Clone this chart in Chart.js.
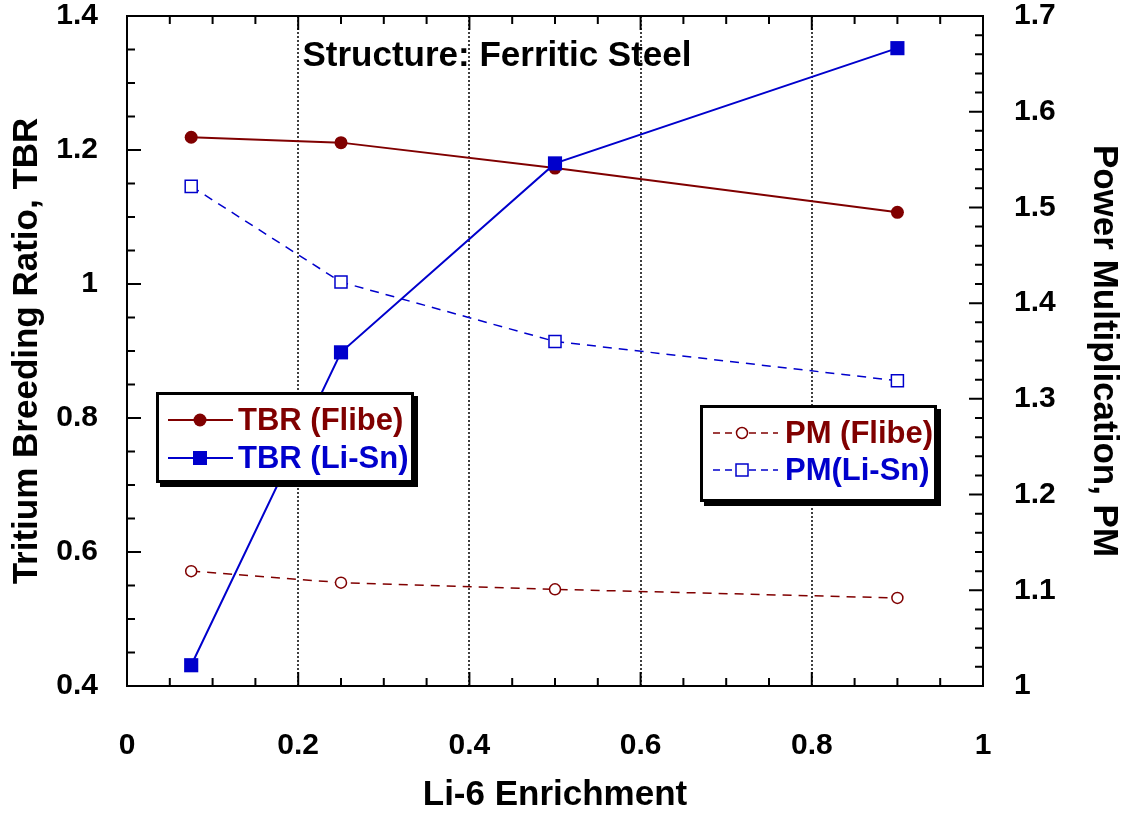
<!DOCTYPE html>
<html><head><meta charset="utf-8">
<script src="https://cdn.jsdelivr.net/npm/chart.js@4/dist/chart.umd.min.js"></script>
<style>html,body{margin:0;padding:0;background:#fff;}#wrap{width:1125px;height:817px;}</style>
</head><body><div id="wrap"><canvas id="c" width="1125" height="817"></canvas></div>
<script>
// ---- data ----
const enrichment = [0.075, 0.25, 0.5, 0.9];
const tbrFlibe = [1.219, 1.211, 1.173, 1.107];
const tbrLiSn = [0.431, 0.898, 1.180, 1.352];
const pmFlibe = [1.120, 1.108, 1.101, 1.092];
const pmLiSn = [1.522, 1.422, 1.360, 1.319];
const xTicks = [0, 0.2, 0.4, 0.6, 0.8, 1];
const yLeftTicks = [0.4, 0.6, 0.8, 1.0, 1.2, 1.4];
const yRightTicks = [1.0, 1.1, 1.2, 1.3, 1.4, 1.5, 1.6, 1.7];
const xGridAt = [0.2, 0.4, 0.6, 0.8];
const seriesNames = ['TBR (Flibe)', 'TBR (Li-Sn)', 'PM (Flibe)', 'PM(Li-Sn)'];
const plotTitle = 'Structure: Ferritic Steel';

const FONT = "'Liberation Sans', Arial, Helvetica, sans-serif";
const RED = '#800000', BLUE = '#0000CC';
const fmt = v => String(Math.round(v * 10) / 10);
const pts = ys => enrichment.map((x, i) => ({x, y: ys[i]}));
const tickFont = {family: FONT, size: 30, weight: 'bold', lineHeight: 1};
const titleFont = {family: FONT, size: 35, weight: 'bold', lineHeight: 1.2};

function range(a, b, s) { const r = []; for (let v = a; v <= b + 1e-9; v += s) r.push(+v.toFixed(4)); return r; }
const isMult = (v, m) => Math.abs(v / m - Math.round(v / m)) < 1e-6;
const noPad = s => { s.paddingTop = 0; s.paddingBottom = 0; s.paddingLeft = 0; s.paddingRight = 0; };

const decor = {
  id: 'decor',
  beforeDatasetsDraw(chart) {
    const {ctx, chartArea: a, scales: {x}} = chart;
    ctx.save();
    ctx.strokeStyle = '#000'; ctx.lineWidth = 1.5; ctx.setLineDash([2, 2]);
    xGridAt.forEach(v => {
      const px = Math.round(x.getPixelForValue(v));
      ctx.beginPath(); ctx.moveTo(px, a.top); ctx.lineTo(px, a.bottom); ctx.stroke();
    });
    ctx.restore();
  },
  afterDatasetsDraw(chart) {
    const {ctx, chartArea: a, scales: {x, y, y2}} = chart;
    ctx.save();
    ctx.strokeStyle = '#000'; ctx.lineWidth = 2; ctx.setLineDash([]);
    ctx.strokeRect(a.left, a.top, a.right - a.left, a.bottom - a.top);
    ctx.beginPath();
    range(0, 1, 0.05).forEach(v => {
      const px = x.getPixelForValue(v);
      const L = isMult(v, 0.2) ? 14 : 8;
      ctx.moveTo(px, a.bottom); ctx.lineTo(px, a.bottom - L);
      ctx.moveTo(px, a.top); ctx.lineTo(px, a.top + L);
    });
    range(0.4, 1.4, 0.05).forEach(v => {
      const py = y.getPixelForValue(v);
      const L = isMult(v, 0.2) ? 14 : 8;
      ctx.moveTo(a.left, py); ctx.lineTo(a.left + L, py);
    });
    range(1.0, 1.7, 0.02).forEach(v => {
      const py = y2.getPixelForValue(v);
      const L = isMult(v, 0.1) ? 14 : 8;
      ctx.moveTo(a.right, py); ctx.lineTo(a.right - L, py);
    });
    ctx.stroke();
    ctx.fillStyle = '#000';
    ctx.font = `bold 35px ${FONT}`;
    ctx.textAlign = 'center'; ctx.textBaseline = 'middle';
    ctx.fillText(plotTitle, 497, 56);
    drawLegend(ctx, {x: 156, y: 392, w: 258, h: 91}, [
      {name: seriesNames[0], color: RED, dash: [], style: 'circle', fill: true, y: 420},
      {name: seriesNames[1], color: BLUE, dash: [], style: 'rect', fill: true, y: 458}
    ], 168, 233, 200, 238);
    drawLegend(ctx, {x: 700, y: 405, w: 237, h: 97}, [
      {name: seriesNames[2], color: RED, dash: [7, 5], style: 'circle', fill: false, y: 433},
      {name: seriesNames[3], color: BLUE, dash: [7, 5], style: 'rect', fill: false, y: 470}
    ], 713, 778, 742, 785);
    ctx.restore();
  }
};

function drawLegend(ctx, b, items, lx0, lx1, mx, tx) {
  ctx.save();
  ctx.setLineDash([]);
  ctx.fillStyle = '#000';
  ctx.fillRect(b.x + 4, b.y + 4, b.w, b.h);
  ctx.fillStyle = '#fff';
  ctx.fillRect(b.x, b.y, b.w, b.h);
  ctx.lineWidth = 3; ctx.strokeStyle = '#000';
  ctx.strokeRect(b.x + 1.5, b.y + 1.5, b.w - 3, b.h - 3);
  items.forEach(it => {
    ctx.strokeStyle = it.color; ctx.lineWidth = it.fill ? 2 : 1.5;
    ctx.setLineDash(it.dash);
    ctx.beginPath(); ctx.moveTo(lx0, it.y); ctx.lineTo(lx1, it.y); ctx.stroke();
    ctx.setLineDash([]);
    ctx.beginPath();
    if (it.style === 'circle') {
      const r = it.fill ? 6.5 : 5.5;
      ctx.arc(mx, it.y, r, 0, Math.PI * 2);
    } else {
      const s = it.fill ? 7 : 6;
      ctx.rect(mx - s, it.y - s, 2 * s, 2 * s);
    }
    if (it.fill) { ctx.fillStyle = it.color; ctx.fill(); }
    else { ctx.fillStyle = '#fff'; ctx.fill(); ctx.lineWidth = 1.5; ctx.stroke(); }
    ctx.fillStyle = it.color;
    ctx.font = `bold 31px ${FONT}`;
    ctx.textAlign = 'left'; ctx.textBaseline = 'middle';
    ctx.fillText(it.name, tx, it.y + 1);
  });
  ctx.restore();
}

new Chart(document.getElementById('c'), {
  type: 'scatter',
  data: {
    datasets: [
      {label: seriesNames[1], data: pts(tbrLiSn), yAxisID: 'y', showLine: true, borderColor: BLUE, backgroundColor: BLUE, borderWidth: 2, pointStyle: 'rect', pointRadius: 10, pointBorderWidth: 0, order: 0},
      {label: seriesNames[0], data: pts(tbrFlibe), yAxisID: 'y', showLine: true, borderColor: RED, backgroundColor: RED, borderWidth: 2, pointStyle: 'circle', pointRadius: 6.5, pointBorderWidth: 0, order: 1},
      {label: seriesNames[3], data: pts(pmLiSn), yAxisID: 'y2', showLine: true, borderColor: BLUE, backgroundColor: '#fff', borderWidth: 1.5, borderDash: [9, 7], pointStyle: 'rect', pointRadius: 8.5, pointBorderWidth: 1.5, order: 2},
      {label: seriesNames[2], data: pts(pmFlibe), yAxisID: 'y2', showLine: true, borderColor: RED, backgroundColor: '#fff', borderWidth: 1.5, borderDash: [9, 7], pointStyle: 'circle', pointRadius: 5.5, pointBorderWidth: 1.5, order: 3}
    ]
  },
  options: {
    responsive: false, animation: false, devicePixelRatio: 1,
    layout: {padding: {top: 16, left: 0, right: 0, bottom: 0}},
    plugins: {legend: {display: false}, tooltip: {enabled: false}, title: {display: false}},
    scales: {
      x: {
        type: 'linear', position: 'bottom', min: 0, max: 1,
        afterBuildTicks: s => { s.ticks = xTicks.map(v => ({value: v})); },
        afterFit: s => { s.height = 131; noPad(s); },
        ticks: {font: tickFont, color: '#000', padding: 45, maxRotation: 0, autoSkip: false, callback: v => fmt(v)},
        grid: {display: false, drawTicks: false}, border: {display: false},
        title: {display: true, text: 'Li-6 Enrichment', font: titleFont, color: '#000', padding: {top: 0, bottom: 1}}
      },
      y: {
        type: 'linear', position: 'left', min: 0.4, max: 1.4,
        afterBuildTicks: s => { s.ticks = yLeftTicks.map(v => ({value: v})); },
        afterFit: s => { s.width = 127; noPad(s); },
        ticks: {font: tickFont, color: '#000', padding: 29, autoSkip: false, callback: v => fmt(v)},
        grid: {display: false, drawTicks: false}, border: {display: false},
        title: {display: true, text: 'Tritium Breeding Ratio, TBR', font: titleFont, color: '#000', padding: {top: 6, bottom: 0}}
      },
      y2: {
        type: 'linear', position: 'right', min: 1.0, max: 1.7,
        afterBuildTicks: s => { s.ticks = yRightTicks.map(v => ({value: v})); },
        afterFit: s => { s.width = 142; noPad(s); },
        ticks: {font: tickFont, color: '#000', padding: 31, autoSkip: false, callback: v => fmt(v)},
        grid: {display: false, drawTicks: false}, border: {display: false},
        title: {display: true, text: 'Power Multiplication, PM', font: titleFont, color: '#000', padding: {top: 0, bottom: 0}}
      }
    }
  },
  plugins: [decor]
});
</script></body></html>
